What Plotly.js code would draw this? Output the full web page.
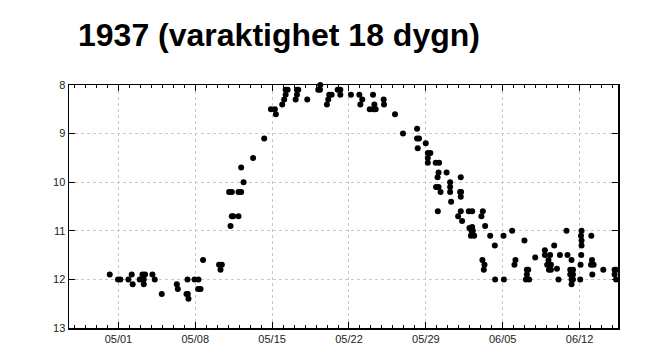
<!DOCTYPE html>
<html>
<head>
<meta charset="utf-8">
<script src="https://cdn.plot.ly/plotly-3.0.1.min.js"></script>
<style>
  html, body { margin: 0; padding: 0; background: #ffffff; }
  #chart { width: 668px; height: 347px; }
</style>
</head>
<body>
<div id="chart"></div>
<script>
// Observation times, in days after 1937-05-01 00:00
const obsDay = [
  -0.79, -0.04, 0.18, 0.91, 1.21, 1.30, 1.94, 2.19, 2.43, 2.31, 2.31, 3.10, 3.31, 3.95,
  5.32, 5.41, 6.20, 6.32, 6.38, 6.29, 6.93, 7.29, 7.26, 7.48, 7.71,
  9.17, 9.42, 9.30, 10.21, 10.33, 10.45, 10.94, 10.08, 10.33, 10.94, 11.18, 11.40, 11.18,
  12.27, 13.28,
  13.89, 14.25, 14.34, 14.92, 15.10, 15.23, 15.23, 15.41, 16.14, 16.26, 16.26, 16.38,
  17.20, 18.20, 18.36, 18.38, 18.99, 19.11, 19.20, 19.42, 19.97, 20.21, 20.21, 21.18,
  21.94, 22.03, 22.21, 22.89, 23.22, 23.19, 23.31, 23.43, 24.16, 24.19, 25.19, 25.92,
  27.20, 27.20, 27.38, 27.26, 27.99, 28.18, 28.41, 28.18, 28.18, 28.90, 29.21, 29.16,
  29.07, 29.89, 28.93, 29.16, 29.34, 29.09, 30.21, 30.21, 30.21, 30.30, 31.18, 31.12,
  31.21, 31.18, 31.18, 30.94, 31.30, 31.91, 32.22, 31.97, 32.22, 32.15, 32.28, 32.10,
  32.40, 33.06, 33.19, 33.40, 33.86, 34.28, 35.07, 35.86, 33.15, 33.34, 33.28, 34.31,
  35.11, 36.16, 36.07, 36.98, 37.20, 37.32, 37.20, 37.11, 37.41, 37.96, 38.84, 38.84,
  39.32, 39.17, 39.05, 39.39, 39.21, 39.39, 39.69, 39.94, 40.21, 40.08, 40.81, 40.90,
  41.27, 41.15, 41.40, 41.15, 41.40, 41.27, 41.40, 41.27, 42.18, 42.13, 42.18, 42.18,
  42.15, 42.09, 42.06, 43.07, 43.13, 43.04, 43.28, 43.16, 44.16, 45.19, 45.32, 45.19,
  45.32
];
const level = [
  11.9, 12.0, 12.0, 12.0, 11.9, 12.1, 12.0, 11.9, 11.9, 12.0, 12.1, 11.9, 12.0, 12.3,
  12.1, 12.2, 12.3, 12.3, 12.4, 12.0, 12.0, 12.0, 12.2, 12.2, 11.6,
  11.7, 11.7, 11.8, 10.9, 10.7, 10.7, 10.7, 10.2, 10.2, 10.2, 10.2, 10.0, 9.7,
  9.5, 9.1,
  8.5, 8.5, 8.6, 8.4, 8.3, 8.2, 8.1, 8.1, 8.3, 8.2, 8.1, 8.1,
  8.3, 8.1, 8.1, 8.0, 8.4, 8.3, 8.2, 8.2, 8.1, 8.1, 8.2, 8.2,
  8.2, 8.4, 8.3, 8.5, 8.5, 8.2, 8.4, 8.5, 8.3, 8.4, 8.6, 9.0,
  8.9, 9.1, 9.1, 9.3, 9.2, 9.4, 9.4, 9.5, 9.6, 9.6, 9.6, 9.8,
  9.9, 9.8, 10.1, 10.1, 10.2, 10.6, 10.0, 10.1, 10.2, 10.4, 9.9, 10.2,
  10.2, 10.3, 10.6, 10.7, 10.8, 10.6, 10.6, 10.94, 10.92, 11.0, 11.0, 11.1,
  11.1, 10.7, 10.6, 10.9, 11.1, 11.3, 11.1, 11.0, 11.6, 11.7, 11.8, 12.0,
  12.0, 11.6, 11.7, 11.2, 11.8, 11.8, 11.9, 12.0, 12.0, 11.55, 11.4, 11.5,
  11.5, 11.6, 11.7, 11.7, 11.8, 11.8, 11.3, 11.78, 11.5, 12.0, 11.0, 11.5,
  11.6, 11.8, 11.8, 11.9, 11.9, 12.0, 12.0, 12.1, 11.0, 11.1, 11.2, 11.3,
  11.5, 11.7, 12.0, 11.1, 11.6, 11.7, 11.7, 11.9, 11.8, 11.8, 11.8, 11.9,
  12.0
];
const tickDates = ['1937-05-01', '1937-05-08', '1937-05-15', '1937-05-22', '1937-05-29', '1937-06-05', '1937-06-12'];
const tickLabels = ['05/01', '05/08', '05/15', '05/22', '05/29', '06/05', '06/12'];
const yTicks = [8, 9, 10, 11, 12, 13];
const titleText = '1937 (varaktighet 18 dygn)';

function pad(n) { return (n < 10 ? '0' : '') + n; }
function toDateStr(d) {
  const base = Date.UTC(1937, 4, 1);
  const t = new Date(base + d * 86400000);
  return t.getUTCFullYear() + '-' + pad(t.getUTCMonth() + 1) + '-' + pad(t.getUTCDate()) +
    ' ' + pad(t.getUTCHours()) + ':' + pad(t.getUTCMinutes());
}
const xDates = obsDay.map(toDateStr);

const trace = {
  type: 'scatter',
  mode: 'markers',
  x: xDates,
  y: level,
  cliponaxis: false,
  marker: { color: '#000000', size: 6 },
  hoverinfo: 'x+y'
};

const layout = {
  width: 668,
  height: 347,
  margin: { l: 69, r: 50, t: 85, b: 19 },
  paper_bgcolor: '#ffffff',
  plot_bgcolor: '#ffffff',
  showlegend: false,
  title: {
    text: '<b>' + titleText + '</b>',
    font: { family: 'Liberation Sans, Arial, sans-serif', size: 32, color: '#000000' },
    xref: 'container', x: 78 / 668, xanchor: 'left',
    yref: 'container', y: 1 - 35 / 347, yanchor: 'middle'
  },
  xaxis: {
    type: 'date',
    range: ['1937-04-26 12:00', '1937-06-15 12:00'],
    tickmode: 'array',
    tickvals: tickDates,
    ticktext: tickLabels,
    ticks: 'inside',
    ticklen: 6,
    tickcolor: '#000000',
    showline: true,
    linecolor: '#000000',
    linewidth: 1.5,
    mirror: 'ticks',
    showgrid: true,
    gridcolor: '#c8c8c8',
    griddash: 'dot',
    gridwidth: 1,
    zeroline: false,
    tickfont: { family: 'Liberation Sans, Arial, sans-serif', size: 11, color: '#222222' },
    minor: {
      dtick: 86400000,
      tick0: '1937-05-01',
      ticks: 'inside',
      ticklen: 3,
      tickcolor: '#000000',
      showgrid: false
    }
  },
  yaxis: {
    range: [13, 8],
    tickmode: 'array',
    tickvals: yTicks,
    ticktext: yTicks.map(String),
    ticks: 'inside',
    ticklen: 6,
    tickcolor: '#000000',
    showline: true,
    linecolor: '#000000',
    linewidth: 1.5,
    mirror: 'ticks',
    showgrid: true,
    gridcolor: '#c8c8c8',
    griddash: 'dot',
    gridwidth: 1,
    zeroline: false,
    tickfont: { family: 'Liberation Sans, Arial, sans-serif', size: 11, color: '#222222' }
  }
};

Plotly.newPlot('chart', [trace], layout, { displayModeBar: false, staticPlot: true });
</script>
</body>
</html>
